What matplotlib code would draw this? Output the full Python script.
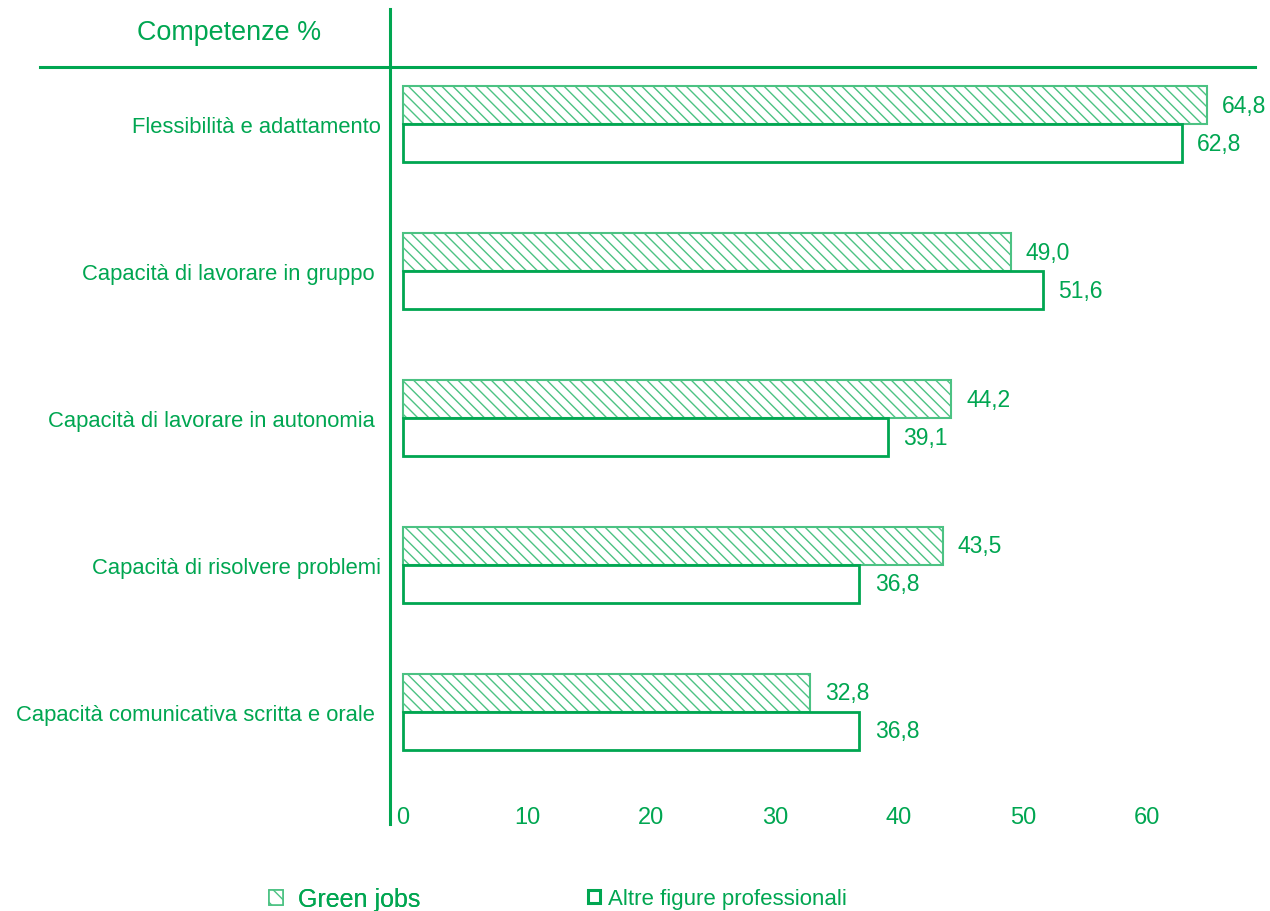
import matplotlib
matplotlib.use("Agg")
import matplotlib.pyplot as plt
from matplotlib.patches import Patch
from matplotlib.lines import Line2D
import numpy as np

GREEN = "#00A651"
LIGHT = "#4CC283"

categories = [
    "Flessibilità e adattamento",
    "Capacità di lavorare in gruppo ",
    "Capacità di lavorare in autonomia ",
    "Capacità di risolvere problemi",
    "Capacità comunicativa scritta e orale ",
]
green_jobs = [64.8, 49.0, 44.2, 43.5, 32.8]
altre_figure = [62.8, 51.6, 39.1, 36.8, 36.8]
series_names = ["Green jobs", "Altre figure professionali"]
xticks = [0, 10, 20, 30, 40, 50, 60]

plt.rcParams["font.family"] = ["Liberation Sans", "DejaVu Sans"]
plt.rcParams["hatch.linewidth"] = 1.0

fig = plt.figure(figsize=(12.7, 9.12), dpi=100)
ax = fig.add_axes([390 / 1270, 112 / 912, 870 / 1270, 732 / 912])

y = np.arange(len(categories))
h = 0.2585
b1 = ax.barh(y - h / 2, green_jobs, height=h, facecolor="white",
             edgecolor=LIGHT, hatch="\\\\\\", linewidth=1.5)
b2 = ax.barh(y + h / 2, altre_figure, height=h, facecolor="white",
             edgecolor=GREEN, linewidth=2)

fmt = lambda v: f"{v:.1f}".replace(".", ",")
ax.bar_label(b1, labels=[fmt(v) for v in green_jobs], padding=11,
             color=GREEN, fontsize=16.5)
ax.bar_label(b2, labels=[fmt(v) for v in altre_figure], padding=11,
             color=GREEN, fontsize=16.5)

ax.set_xlim(-1.05, 69.1)
ax.set_ylim(4.592, -0.388)
ax.set_xticks(xticks)
ax.set_xticklabels([str(t) for t in xticks])
ax.set_yticks(y)
ax.set_yticklabels(categories)
ax.tick_params(axis="x", length=0, pad=5, labelsize=17, labelcolor=GREEN)
ax.tick_params(axis="y", length=0, pad=6.5, labelsize=15.8, labelcolor=GREEN)
for s in ax.spines.values():
    s.set_visible(False)

# frame lines
fig.add_artist(Line2D([390 / 1270, 390 / 1270], [1 - 10 / 912, 1 - 825 / 912],
                      transform=fig.transFigure, color=GREEN, lw=2.2))
fig.add_artist(Line2D([40 / 1270, 1255 / 1270], [1 - 68 / 912, 1 - 68 / 912],
                      transform=fig.transFigure, color=GREEN, lw=2.2))
fig.text(229 / 1270, 1 - 33 / 912, "Competenze %", color=GREEN,
         fontsize=19.4, ha="center", va="center")

# legend, one entry each so the two items sit where the reference puts them
h1 = Patch(facecolor="white", edgecolor=LIGHT, hatch="\\\\", linewidth=1.2)
h2 = Patch(facecolor="white", edgecolor=GREEN, linewidth=2.2)
leg1 = fig.legend([h1], [series_names[0]], loc="center left",
                  bbox_to_anchor=(269 / 1270, 1 - 900 / 912), frameon=False,
                  fontsize=18, labelcolor=GREEN, handlelength=0.55,
                  handleheight=0.55, handletextpad=0.6, borderpad=0,
                  borderaxespad=0)
fig.add_artist(leg1)
fig.legend([h2], [series_names[1]], loc="center left",
           bbox_to_anchor=(588 / 1270, 1 - 900 / 912), frameon=False,
           fontsize=16, labelcolor=GREEN, handlelength=0.55,
           handleheight=0.55, handletextpad=0.35, borderpad=0,
           borderaxespad=0)

fig.savefig("out.png", dpi=100)
